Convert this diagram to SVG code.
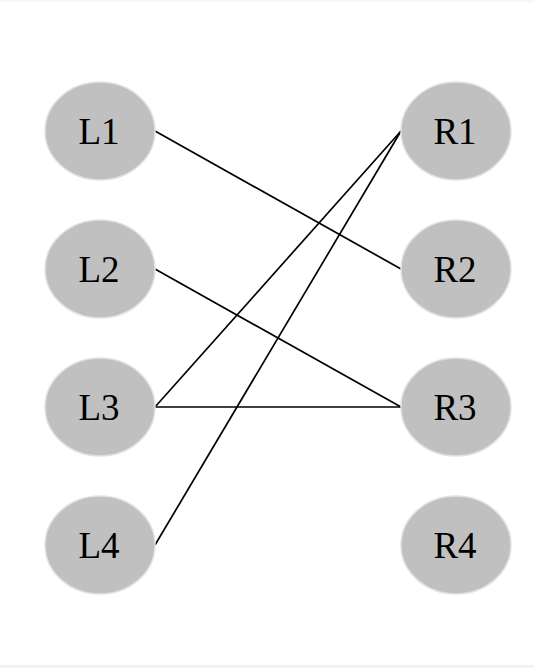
<svg xmlns="http://www.w3.org/2000/svg" width="534" height="668" viewBox="0 0 534 668">
<style>
.n ellipse{fill:#c0c0c0;stroke:#e2e2e2;stroke-width:1.5}
.n text{font-family:"Liberation Serif",serif;font-size:37px;fill:#000;text-anchor:middle}
.e line{stroke:#000;stroke-width:1.7}
</style>
<rect width="534" height="668" fill="#fff"/>
<rect x="0" y="0" width="534" height="2" fill="#f7f7f7"/>
<rect x="0" y="665" width="534" height="3" fill="#f3f3f3"/>
<g class="e" id="edges">
<line x1="155" y1="131" x2="401" y2="269"/>
<line x1="155" y1="269" x2="401" y2="407"/>
<line x1="155" y1="407" x2="401" y2="131"/>
<line x1="155" y1="407" x2="401" y2="407"/>
<line x1="155" y1="545" x2="401" y2="131"/>
</g>
<g class="n" id="L1"><ellipse cx="100" cy="131" rx="55" ry="49"/><text x="99" y="144">L1</text></g>
<g class="n" id="L2"><ellipse cx="100" cy="269" rx="55" ry="49"/><text x="99" y="282">L2</text></g>
<g class="n" id="L3"><ellipse cx="100" cy="407" rx="55" ry="49"/><text x="99" y="420">L3</text></g>
<g class="n" id="L4"><ellipse cx="100" cy="545" rx="55" ry="49"/><text x="99" y="558">L4</text></g>
<g class="n" id="R1"><ellipse cx="456" cy="131" rx="55" ry="49"/><text x="455" y="144">R1</text></g>
<g class="n" id="R2"><ellipse cx="456" cy="269" rx="55" ry="49"/><text x="455" y="282">R2</text></g>
<g class="n" id="R3"><ellipse cx="456" cy="407" rx="55" ry="49"/><text x="455" y="420">R3</text></g>
<g class="n" id="R4"><ellipse cx="456" cy="545" rx="55" ry="49"/><text x="455" y="558">R4</text></g>
</svg>
